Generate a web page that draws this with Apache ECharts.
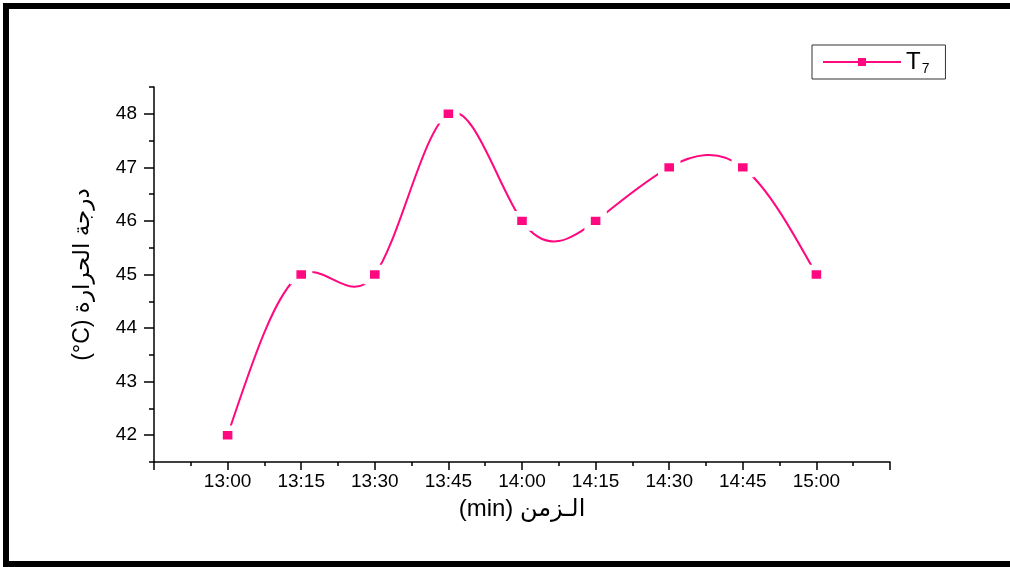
<!DOCTYPE html>
<html>
<head>
<meta charset="utf-8">
<script src="https://cdn.jsdelivr.net/npm/echarts@6/dist/echarts.min.js"></script>
<style>
html,body{margin:0;padding:0;background:#fff;}
#main{width:1010px;height:567px;}
</style>
</head>
<body>
<div id="main"></div>
<script>
// Data
var timeLabels = ['13:00','13:15','13:30','13:45','14:00','14:15','14:30','14:45','15:00'];
var tempT7 = [42, 45, 45, 48, 46, 46, 47, 47, 45];
var yMajorTicks = [42, 43, 44, 45, 46, 47, 48];
var yMinorTicks = [41.5, 42.5, 43.5, 44.5, 45.5, 46.5, 47.5, 48.5];
var seriesName = 'T7';

var pink = '#ff0880';
var fontFam = '"Liberation Sans", Arial, "DejaVu Sans", sans-serif';
var points = tempT7.map(function (v, i) { return [i, v]; });

// Natural cubic spline slopes (data space, unit spacing) – used only to shape the connecting curve
function splineSlopes(y) {
  var n = y.length, M = new Array(n).fill(0);
  if (n > 2) {
    var a = [], b = [], c = [], d = [];
    for (var i = 1; i < n - 1; i++) {
      a.push(1); b.push(4); c.push(1);
      d.push(6 * (y[i + 1] - 2 * y[i] + y[i - 1]));
    }
    var m = d.length;
    for (var k = 1; k < m; k++) {
      var w = a[k] / b[k - 1];
      b[k] -= w * c[k - 1];
      d[k] -= w * d[k - 1];
    }
    var sol = new Array(m);
    sol[m - 1] = d[m - 1] / b[m - 1];
    for (var k2 = m - 2; k2 >= 0; k2--) sol[k2] = (d[k2] - c[k2] * sol[k2 + 1]) / b[k2];
    for (var j = 0; j < m; j++) M[j + 1] = sol[j];
  }
  var s = [];
  for (var i2 = 0; i2 < n - 1; i2++) s.push((y[i2 + 1] - y[i2]) - (2 * M[i2] + M[i2 + 1]) / 6);
  s.push((y[n - 1] - y[n - 2]) + (M[n - 2] + 2 * M[n - 1]) / 6);
  return s;
}
var slopes = splineSlopes(tempT7);

var chart = echarts.init(document.getElementById('main'), null, {renderer: 'canvas'});
chart.setOption({
  backgroundColor: '#fff',
  animation: false,
  grid: {left: 154, right: 120, top: 87, bottom: 105, containLabel: false},
  legend: {
    data: [seriesName],
    left: 812, top: 45,
    padding: [5, 16, 3, 10],
    borderColor: '#333', borderWidth: 1,
    itemWidth: 78, itemHeight: 10, itemGap: 0,
    itemStyle: {borderWidth: 0},
    lineStyle: {color: pink, width: 2, opacity: 1},
    formatter: function () { return '{a|T}{b|7}'; },
    textStyle: {
      fontFamily: fontFam,
      rich: {
        a: {fontSize: 24, color: '#000', fontFamily: fontFam},
        b: {fontSize: 14, color: '#000', fontFamily: fontFam, padding: [14, 0, 0, 1]}
      }
    }
  },
  graphic: [
    {type: 'line', shape: {x1: 3, y1: 6, x2: 1010, y2: 6}, style: {stroke: '#000', lineWidth: 6}},
    {type: 'line', shape: {x1: 6, y1: 3, x2: 6, y2: 567}, style: {stroke: '#000', lineWidth: 6}},
    {type: 'line', shape: {x1: 3, y1: 564, x2: 1010, y2: 564}, style: {stroke: '#000', lineWidth: 6}}
  ],
  xAxis: {
    type: 'value', min: -1, max: 9, interval: 1,
    name: '(min) الـزمن', nameLocation: 'middle', nameGap: 35,
    nameTextStyle: {fontSize: 24, color: '#000', fontFamily: fontFam},
    axisLine: {show: true, onZero: false, lineStyle: {color: '#000', width: 1.5}},
    axisTick: {show: true, length: 8, lineStyle: {color: '#000', width: 1.5}},
    minorTick: {show: true, splitNumber: 2, length: 4, lineStyle: {color: '#000', width: 1.5}},
    splitLine: {show: false},
    axisLabel: {
      fontSize: 19, color: '#000', fontFamily: fontFam, margin: 10,
      formatter: function (v) { return (v >= 0 && v < timeLabels.length) ? timeLabels[v] : ''; }
    }
  },
  yAxis: [
    {
      type: 'value', min: 41.5, max: 48.5,
      name: '(°C) درجة الحرارة', nameLocation: 'middle', nameGap: 60,
      nameTextStyle: {fontSize: 23, color: '#000', fontFamily: fontFam},
      axisLine: {show: true, onZero: false, lineStyle: {color: '#000', width: 1.5}},
      axisTick: {show: true, length: 10, customValues: yMajorTicks, lineStyle: {color: '#000', width: 1.5}},
      axisLabel: {customValues: yMajorTicks, fontSize: 19, color: '#000', fontFamily: fontFam, margin: 17},
      splitLine: {show: false}
    },
    {
      type: 'value', min: 41.5, max: 48.5, position: 'left',
      axisLine: {show: false, onZero: false},
      axisTick: {show: true, length: 5, customValues: yMinorTicks, lineStyle: {color: '#000', width: 1.5}},
      axisLabel: {show: false},
      splitLine: {show: false}
    }
  ],
  series: [
    {
      name: 'curve',
      type: 'custom',
      yAxisIndex: 0,
      data: points,
      encode: {x: 0, y: 1},
      clip: false,
      z: 2,
      silent: true,
      renderItem: function (params, api) {
        var i = params.dataIndex;
        if (i >= tempT7.length - 1) return null;
        var y0 = tempT7[i], y1 = tempT7[i + 1];
        var p0 = api.coord([i, y0]);
        var c1 = api.coord([i + 1 / 3, y0 + slopes[i] / 3]);
        var c2 = api.coord([i + 2 / 3, y1 - slopes[i + 1] / 3]);
        var p1 = api.coord([i + 1, y1]);
        return {
          type: 'bezierCurve',
          shape: {x1: p0[0], y1: p0[1], cpx1: c1[0], cpy1: c1[1], cpx2: c2[0], cpy2: c2[1], x2: p1[0], y2: p1[1]},
          style: {stroke: pink, lineWidth: 2, fill: null}
        };
      }
    },
    {
      name: seriesName,
      type: 'line',
      yAxisIndex: 0,
      data: points,
      z: 3,
      symbol: 'rect',
      symbolSize: [16, 14],
      lineStyle: {color: pink, width: 2, opacity: 0},
      itemStyle: {color: pink, borderColor: '#fff', borderWidth: 6}
    }
  ]
});
</script>
</body>
</html>
